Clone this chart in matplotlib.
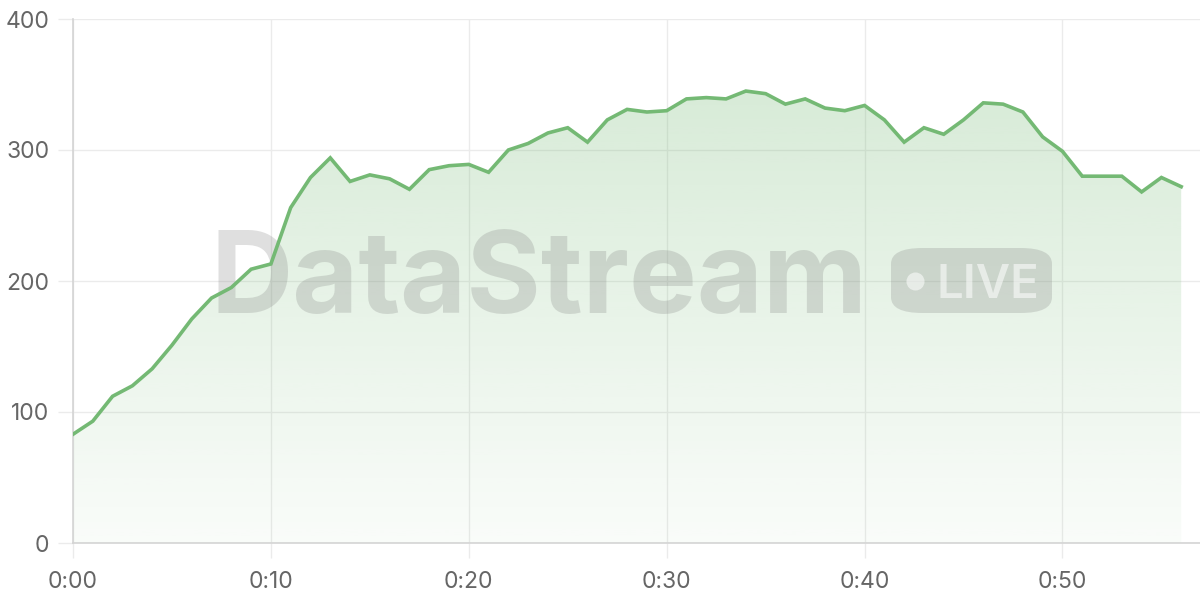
import numpy as np
import matplotlib
matplotlib.use("Agg")
import matplotlib.pyplot as plt
from matplotlib.patches import FancyBboxPatch, Polygon

# viewers per minute
minutes = list(range(57))
viewers = [83, 93, 112, 120, 133, 151, 171, 187, 195, 209,
           213, 256, 279, 294, 276, 281, 278, 270, 285, 288,
           289, 283, 300, 305, 313, 317, 306, 323, 331, 329,
           330, 339, 340, 339, 345, 343, 335, 339, 332, 330,
           334, 323, 306, 317, 312, 323, 336, 335, 329, 310,
           299, 280, 280, 280, 268, 279, 272]
x_ticks = [0, 10, 20, 30, 40, 50]
x_labels = ["0:00", "0:10", "0:20", "0:30", "0:40", "0:50"]
y_ticks = [0, 100, 200, 300, 400]

line_col = "#74b974"
grid_col = "#ebebeb"
text_col = "#666666"

plt.rcParams['font.family'] = ['Inter', 'DejaVu Sans']

fig = plt.figure(figsize=(12, 6), dpi=100)
ax = fig.add_axes([73/1200, 1-543/600, 1-73/1200, (543-19)/600])

# gradient fill under the line
rgb = matplotlib.colors.to_rgb(line_col)
grad = np.zeros((256, 1, 4))
grad[:, 0, :3] = rgb
grad[:, 0, 3] = np.linspace(0.32, 0.04, 256)
im = ax.imshow(grad, extent=[0, 56, 0, 400], aspect='auto', origin='upper', zorder=1)
poly = Polygon(list(zip(minutes, viewers)) + [(56, 0), (0, 0)], closed=True,
               facecolor='none', edgecolor='none', transform=ax.transData)
ax.add_patch(poly)
im.set_clip_path(poly)

# watermark
wm = (0.5, 0.5, 0.5)
ax.text((211-73)/1127, (543-313)/524, "DataStream", transform=ax.transAxes, fontsize=82,
        fontweight='bold', color=wm, alpha=0.25, ha='left', va='baseline', zorder=2)
bx0, by0 = (891-73)/1127, (543-313)/524
bw, bh = (1052-891)/1127, (313-248)/524
badge = FancyBboxPatch((bx0, by0), bw, bh, transform=ax.transAxes,
                       boxstyle="round,pad=0,rounding_size=0.028", mutation_aspect=1127/524*0.5,
                       facecolor=wm, alpha=0.25, edgecolor='none', zorder=2)
ax.add_patch(badge)
ax.plot([(915-73)/1127], [(543-281)/524], 'o', transform=ax.transAxes, ms=13,
        color='white', alpha=0.55, mec='none', zorder=2)
ax.text((937-73)/1127, (543-298)/524, "LIVE", transform=ax.transAxes, fontsize=34,
        fontweight='semibold', color='white', alpha=0.55, ha='left', va='baseline', zorder=2)

ax.plot(minutes, viewers, color=line_col, lw=2.6, zorder=3, solid_joinstyle='miter')

ax.set_xlim(0, 56.95)
ax.set_ylim(0, 400)
ax.set_xticks(x_ticks)
ax.set_xticklabels(x_labels)
ax.set_yticks(y_ticks)
ax.grid(True, color=grid_col, lw=1)
ax.set_axisbelow(True)
ax.tick_params(axis='both', length=11, width=1, color=grid_col, labelcolor=text_col, labelsize=16.5)
ax.tick_params(axis='x', pad=9)
ax.tick_params(axis='y', pad=6)
for s in ['top', 'right']:
    ax.spines[s].set_visible(False)
for s in ['left', 'bottom']:
    ax.spines[s].set_color('#d4d4d4')
    ax.spines[s].set_linewidth(1.2)

fig.savefig("out.png", dpi=100)
